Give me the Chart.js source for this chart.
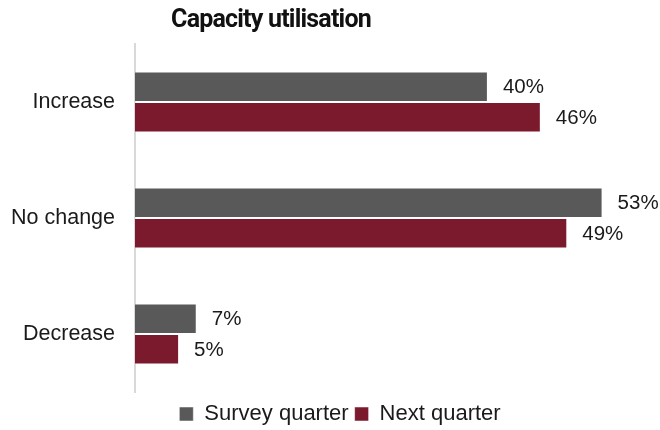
<!DOCTYPE html>
<html>
<head>
<meta charset="utf-8">
<script src="https://cdn.jsdelivr.net/npm/chart.js@4"></script>
<style>
  html, body { margin: 0; padding: 0; background: #fff; }
  #wrap { width: 660px; height: 430px; }
</style>
</head>
<body>
<div id="wrap"><canvas id="chart"></canvas></div>
<script>
const categories = ['Increase', 'No change', 'Decrease']
const surveyQuarter = [40, 53, 7]
const nextQuarter = [46, 49, 5]
const seriesNames = ['Survey quarter', 'Next quarter']
const chartTitle = 'Capacity utilisation'

const FONT = '"Liberation Sans", Arial, sans-serif'

// value labels next to each bar, plus the title (drawn off-centre like the original)
const extras = {
    id: 'extras',
    afterLayout(chart) {
        // original legend sits a bit right of centre and lower
        const lg = chart.legend
        lg.left += 25
        lg.right += 25
        lg.top += 5
        lg.bottom += 5
    },
    afterDatasetsDraw(chart) {
        const ctx = chart.ctx
        ctx.save()
        ctx.font = `20.5px ${FONT}`
        ctx.fillStyle = '#1a1a1a'
        ctx.textAlign = 'left'
        ctx.textBaseline = 'middle'
        chart.data.datasets.forEach((ds, i) => {
            chart.getDatasetMeta(i).data.forEach((bar, j) => {
                ctx.fillText(`${ds.data[j]}%`, bar.x + 15, bar.y + 1)
            })
        })
        ctx.font = `bold 25px Roboto, ${FONT}`
        ctx.letterSpacing = '-0.8px'
        ctx.fillStyle = '#111'
        ctx.textAlign = 'center'
        ctx.fillText(chartTitle, 271, 21)
        ctx.restore()
    }
}

new Chart('chart', {
    type: 'bar',
    data: {
        labels: categories,
        datasets: [{
            label: seriesNames[0],
            data: surveyQuarter,
            backgroundColor: '#595959',
            borderColor: 'rgba(255,255,255,0.5)',
            borderWidth: 1
        }, {
            label: seriesNames[1],
            data: nextQuarter,
            backgroundColor: '#7b1a2c',
            borderColor: 'rgba(255,255,255,0.5)',
            borderWidth: 1
        }]
    },
    options: {
        indexAxis: 'y',
        responsive: true,
        maintainAspectRatio: false,
        animation: false,
        datasets: { bar: { barPercentage: 1, categoryPercentage: 0.525 } },
        layout: { padding: { left: 8, right: 38, top: 44, bottom: 0 } },
        scales: {
            x: { display: false, min: 0, max: 55.2 },
            y: {
                grid: { display: false, drawTicks: false },
                border: { color: '#d9d9d9', width: 2 },
                ticks: { font: { size: 21.5, family: FONT }, color: '#1a1a1a', padding: 20 },
                afterFit(scale) { scale.width = 127 }
            }
        },
        plugins: {
            title: { display: false },
            legend: {
                position: 'bottom',
                labels: {
                    font: { size: 22, family: FONT },
                    color: '#1a1a1a',
                    boxWidth: 14,
                    boxHeight: 14,
                    padding: 6
                }
            },
            tooltip: { enabled: false }
        }
    },
    plugins: [extras]
})
</script>
</body>
</html>
